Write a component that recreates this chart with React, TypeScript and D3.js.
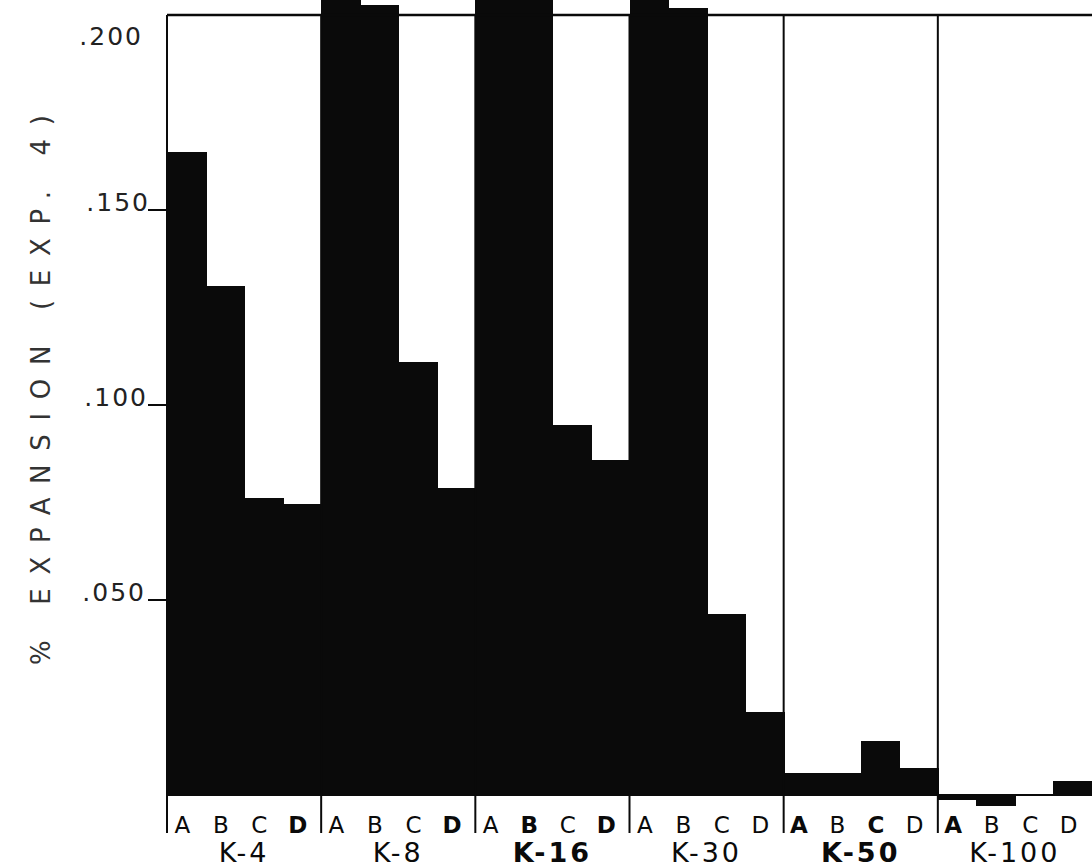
import React from 'react';
import * as d3 from 'd3';

// expansion (%) by cement type K-x and mix A..D
const categories = ['K-4', 'K-8', 'K-16', 'K-30', 'K-50', 'K-100'];
const mixes = ['A', 'B', 'C', 'D'];
const valuesA = [0.1649, 0.21, 0.212, 0.21, 0.0056, -0.0013];
const valuesB = [0.1305, 0.2026, 0.212, 0.2017, 0.0056, -0.0027];
const valuesC = [0.0762, 0.111, 0.0949, 0.0464, 0.0138, 0.0003];
const valuesD = [0.0746, 0.0787, 0.0859, 0.0213, 0.0069, 0.0035];
const yTicks = [0.05, 0.1, 0.15, 0.2];
const yTickLabels = ['.050', '.100', '.150', '.200'];
const yTitle = '% EXPANSION (EXP. 4)';

// letters that were drawn heavier in the original lettering
const heavy = new Set(['K-4:D', 'K-8:D', 'K-16:B', 'K-16:D', 'K-50:A', 'K-50:C', 'K-100:A']);
const heavyGroups = new Set(['K-16', 'K-50']);

const W = 1092;
const H = 867;
const left = 167;
const right = 1092;
const top = 15;
const base = 795;
const sepBottom = 833;
const ink = '#0a0a0a';
const font = '"DejaVu Sans", "Liberation Sans", sans-serif';

export default function App() {
  const series = [valuesA, valuesB, valuesC, valuesD];

  const x = d3.scaleBand<string>().domain(categories).range([left, right]).padding(0);
  const inner = d3.scaleBand<string>().domain(mixes).range([0, x.bandwidth()]).padding(0);
  const y = d3.scaleLinear().domain([0, 0.2]).range([base, top]);

  const bars = categories.flatMap((c, i) =>
    mixes.map((m, j) => ({ c, m, v: series[j][i] }))
  );

  return (
    <svg
      width={W}
      height={H}
      style={{ position: 'absolute', left: 0, top: 0, background: '#fff' }}
    >
      {/* bars */}
      <g shapeRendering="crispEdges">
        {bars.map(b => {
          const x0 = Math.round((x(b.c) as number) + (inner(b.m) as number));
          const x1 = Math.round((x(b.c) as number) + (inner(b.m) as number) + inner.bandwidth());
          const y0 = Math.min(y(b.v), y(0));
          const h = Math.abs(y(b.v) - y(0));
          return (
            <rect key={b.c + b.m} x={x0} y={y0} width={x1 - x0 + 1} height={h} fill={ink} />
          );
        })}
      </g>

      {/* frame: top border, zero line, group separators */}
      <line x1={left} x2={right} y1={top} y2={top} stroke={ink} strokeWidth={2.5} />
      <line x1={left} x2={right} y1={y(0)} y2={y(0)} stroke={ink} strokeWidth={2} />
      {categories.map(c => (
        <line
          key={'sep' + c}
          x1={x(c)}
          x2={x(c)}
          y1={top}
          y2={sepBottom}
          stroke={ink}
          strokeWidth={2}
        />
      ))}

      {/* y ticks */}
      {yTicks.map((t, i) => {
        const isTop = i === yTicks.length - 1;
        return (
          <g key={'t' + t}>
            {!isTop && (
              <line x1={148} x2={left} y1={y(t)} y2={y(t)} stroke={ink} strokeWidth={2} />
            )}
            <text
              x={isTop ? 143 : 148 + i * 2 - 2}
              y={isTop ? 45 : y(t) + 1}
              textAnchor="end"
              fontFamily={font}
              fontSize={25}
              letterSpacing={2}
              fill="#222"
            >
              {yTickLabels[i]}
            </text>
          </g>
        );
      })}

      {/* y title */}
      <text
        transform="translate(50,390) rotate(-90)"
        textAnchor="middle"
        fontFamily={font}
        fontSize={26}
        textLength={550}
        lengthAdjust="spacing"
        fill="#333"
      >
        {yTitle}
      </text>

      {/* mix letters */}
      {categories.map(c =>
        mixes.map(m => (
          <text
            key={'l' + c + m}
            x={(x(c) as number) + (inner(m) as number) + inner.bandwidth() / 2 - 4}
            y={833}
            textAnchor="middle"
            fontFamily={font}
            fontSize={23}
            fontWeight={heavy.has(c + ':' + m) ? 'bold' : 'normal'}
            fill={ink}
          >
            {m}
          </text>
        ))
      )}

      {/* group labels */}
      {categories.map(c => (
        <text
          key={'g' + c}
          x={(x(c) as number) + x.bandwidth() / 2}
          y={862}
          textAnchor="middle"
          fontFamily={font}
          fontSize={27}
          letterSpacing={3}
          fontWeight={heavyGroups.has(c) ? 'bold' : 'normal'}
          fill={ink}
        >
          {c}
        </text>
      ))}
    </svg>
  );
}
